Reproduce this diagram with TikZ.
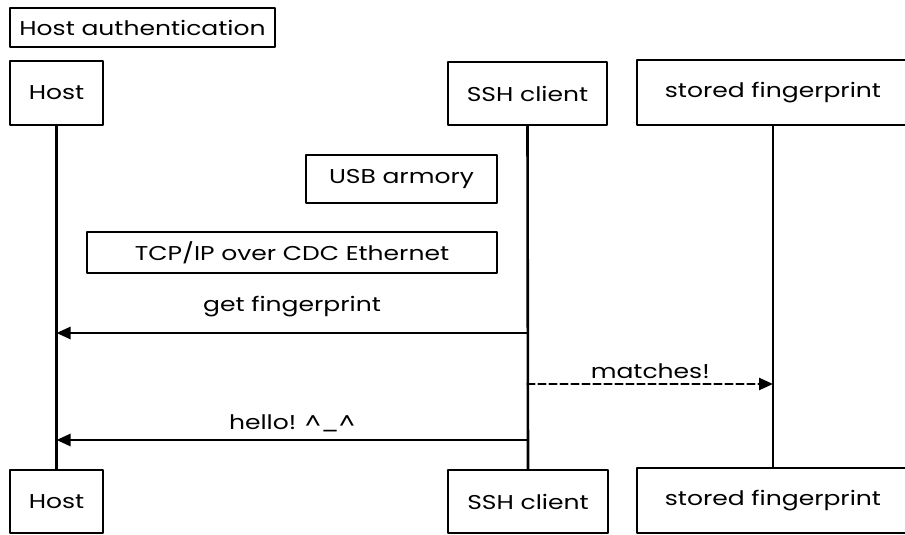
\documentclass[tikz,border=0pt]{standalone}
\usepackage{fontspec}
\setmainfont{Poppins}[FakeStretch=1.25]
\usetikzlibrary{arrows.meta}
\begin{document}
\begin{tikzpicture}[x=1pt,y=-1pt,
  ink/.style={line width=2.6pt, line cap=round, line join=round},
  box/.style={ink, draw, fill=white, inner sep=0pt, align=center,
    font=\fontsize{20}{24}\selectfont},
  lbl/.style={font=\fontsize{20}{24}\selectfont, inner sep=1pt},
  msg/.style={ink, -{Triangle[length=14pt,width=12pt]}},
  life/.style={ink}]
\useasboundingbox (0,0) rectangle (905,535);
\fill[white] (0,0) rectangle (905,535);
\begin{scope}
\clip (0,0) rectangle (905,535);
% participants (top)
\node[box, minimum width=265pt, minimum height=39pt] (title) at (142.5,27.5) {Host authentication};
\node[box, minimum width=93pt, minimum height=64pt] (hostT) at (56.5,93) {Host};
\node[box, minimum width=159pt, minimum height=63pt] (sshT) at (527.5,93.5) {SSH client};
\node[box, minimum width=272pt, minimum height=65pt] (fpT) at (773,92.5) {stored fingerprint};
% participants (bottom)
\node[box, minimum width=93pt, minimum height=63pt] (hostB) at (56.5,501.5) {Host};
\node[box, minimum width=160pt, minimum height=63pt] (sshB) at (528,501.5) {SSH client};
\node[box, minimum width=272pt, minimum height=65pt] (fpB) at (773,500.5) {stored fingerprint};
% lifelines
\draw[life] (hostT.south) -- (hostB.north);
\draw[life] (sshT.south) -- (sshB.north);
\draw[life] (fpT.south) -- (fpB.north);
% notes
\node[box, minimum width=191pt, minimum height=48pt] (usb) at (401.5,179) {USB armory};
\node[box, minimum width=410pt, minimum height=41pt] (tcp) at (292,252.5) {TCP/IP over CDC Ethernet};
% messages
\coordinate (y1) at (0,333);
\coordinate (y2) at (0,384);
\coordinate (y3) at (0,440);
\draw[msg] (sshT |- y1) -- node[lbl, above=14pt] (m1) {get fingerprint} (hostT |- y1);
\draw[msg, dash pattern=on 7pt off 4pt] (sshT |- y2) -- node[lbl, above=3pt] (m2) {matches!} (fpT |- y2);
\draw[msg] (sshT |- y3) -- node[lbl, above=6pt] (m3) {hello! \^{}\_\^{}} (hostT |- y3);
\end{scope}
\end{tikzpicture}
\end{document}
